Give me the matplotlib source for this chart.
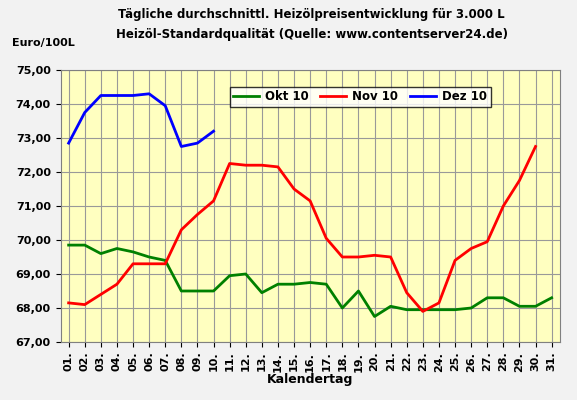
import matplotlib
matplotlib.use("Agg")
import matplotlib.pyplot as plt

days = [f"{i:02d}." for i in range(1, 32)]
okt = [69.85, 69.85, 69.6, 69.75, 69.65, 69.5, 69.4, 68.5, 68.5, 68.5, 68.95, 69.0, 68.45, 68.7, 68.7,
       68.75, 68.7, 68.0, 68.5, 67.75, 68.05, 67.95, 67.95, 67.95, 67.95, 68.0, 68.3, 68.3, 68.05, 68.05, 68.3]
nov = [68.15, 68.1, 68.4, 68.7, 69.3, 69.3, 69.3, 70.3, 70.75, 71.15, 72.25, 72.2, 72.2, 72.15, 71.5,
       71.15, 70.05, 69.5, 69.5, 69.55, 69.5, 68.45, 67.9, 68.15, 69.4, 69.75, 69.95, 71.0, 71.75, 72.75]
dez = [72.85, 73.75, 74.25, 74.25, 74.25, 74.3, 73.95, 72.75, 72.85, 73.2]

fig = plt.figure(figsize=(5.77, 4.0), dpi=100)
fig.patch.set_facecolor("#f2f2f2")
ax = fig.add_axes([0.105, 0.145, 0.865, 0.68])
ax.set_facecolor("#ffffc0")
x = list(range(1, 32))
ax.plot(x, okt, color="#008000", lw=2, label="Okt 10")
ax.plot(x[:30], nov, color="#ff0000", lw=2, label="Nov 10")
ax.plot(x[:10], dez, color="#0000ff", lw=2, label="Dez 10")
ax.set_xlim(0.5, 31.5)
ax.set_ylim(67, 75)
ax.set_yticks(range(67, 76))
ax.set_yticklabels([f"{v},00" for v in range(67, 76)], fontsize=8, fontweight="bold")
ax.set_xticks(x)
ax.set_xticklabels(days, rotation=90, fontsize=8, fontweight="bold")
ax.grid(True, color="#999999", lw=0.8)
ax.set_axisbelow(True)
for s in ax.spines.values():
    s.set_color("#808080")
ax.set_xlabel("Kalendertag", fontsize=9, fontweight="bold", labelpad=1)
leg = ax.legend(loc="upper center", bbox_to_anchor=(0.6, 0.96), ncol=3, fontsize=8.5,
                frameon=True, fancybox=False, edgecolor="black", handlelength=2.2,
                columnspacing=1.0, handletextpad=0.5, borderpad=0.3)
for t in leg.get_texts():
    t.set_fontweight("bold")
fig.text(0.54, 0.955, "Tägliche durchschnittl. Heizölpreisentwicklung für 3.000 L", ha="center",
         fontsize=8.5, fontweight="bold")
fig.text(0.54, 0.905, "Heizöl-Standardqualität (Quelle: www.contentserver24.de)", ha="center",
         fontsize=8.5, fontweight="bold")
fig.text(0.02, 0.885, "Euro/100L", fontsize=8, fontweight="bold")
fig.savefig("out.png", dpi=100, facecolor=fig.get_facecolor())
